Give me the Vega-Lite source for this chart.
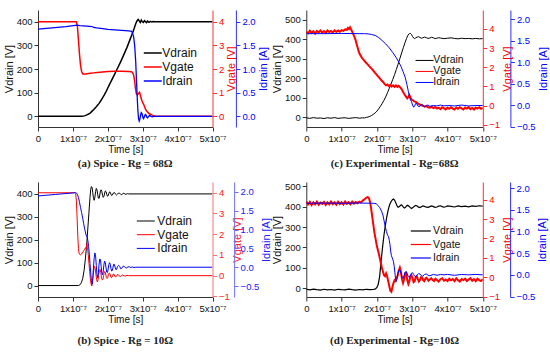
{
  "$schema": "https://vega.github.io/schema/vega-lite/v6.json",
  "background": "white",
  "padding": {"left": 3, "top": 10, "right": 2, "bottom": 6},
  "config": {
    "font": "Liberation Sans",
    "view": {"stroke": null},
    "axis": {"grid": false, "labelFont": "Liberation Sans", "titleFont": "Liberation Sans", "labelFontSize": 9.5, "titleFontSize": 11, "titleFontWeight": "normal", "tickSize": 4, "labelPadding": 2, "titlePadding": 2, "domainColor": "#333333", "tickColor": "#333333", "labelColor": "#111111", "titleColor": "#111111", "labelOverlap": false, "labelFlush": false},
    "axisX": {"labelOverlap": false, "labelBound": false, "labelSeparation": 0},
    "legend": {"symbolType": "M-2,0H2", "symbolSize": 81, "padding": 0, "labelFont": "Liberation Sans", "labelColor": "#111111", "labelLimit": 200}
  },
  "bounds": "flush",
  "columns": 2,
  "spacing": {"row": 55, "column": 93.3},
  "resolve": {"scale": {"color": "independent"}},
  "concat": [
        {
          "width": 174.5, "height": 117,
          "title": {"text": "(a) Spice - Rg = 68Ω", "orient": "bottom", "anchor": "middle", "font": "Liberation Serif", "fontWeight": "bold", "fontSize": 11, "color": "#222222", "offset": 3.5},
          "resolve": {"scale": {"y": "independent"}},
          "encoding": {"x": {"field": "t", "type": "quantitative", "scale": {"domain": [0, 500], "nice": false}, "axis": {"title": "Time [s]", "values": [0, 100, 200, 300, 400, 500], "labelOverlap": false, "labelExpr": "datum.value === 0 ? '0' : (datum.value/100) + 'x10⁻⁷'", "titleFontSize": 10, "titlePadding": 2}}},
          "layer": [
            {"data": {"name": "a_vd"}, "mark": {"type": "line", "strokeWidth": 1.5, "clip": true},
             "encoding": {
               "y": {"field": "v", "type": "quantitative", "scale": {"domain": [-45, 450], "nice": false, "zero": false}, "axis": {"title": "Vdrain [V]", "orient": "left", "values": [0, 100, 200, 300, 400]}},
               "color": {"datum": "Vdrain", "type": "nominal", "scale": {"domain": ["Vdrain", "Vgate", "Idrain"], "range": ["#000000", "#ff0000", "#0000ff"]}, "legend": {"title": null, "orient": "none", "legendX": 108.8, "legendY": 37, "labelFontSize": 12, "labelOffset": 3.5, "rowPadding": 2, "symbolStrokeWidth": 1.5}}
             }},
            {"data": {"name": "a_vg"}, "mark": {"type": "line", "strokeWidth": 1.5, "clip": true},
             "encoding": {
               "y": {"field": "v", "type": "quantitative", "scale": {"domain": [-0.45, 4.5], "nice": false, "zero": false}, "axis": {"title": "Vgate [V]", "orient": "right", "values": [0, 1, 2, 3, 4], "domainColor": "#ff3030", "tickColor": "#ff3030", "labelColor": "#ff0000", "titleColor": "#ff0000", "titleAngle": 270, "titleBaseline": "top"}},
               "color": {"datum": "Vgate", "type": "nominal"}
             }},
            {"data": {"name": "a_id"}, "mark": {"type": "line", "strokeWidth": 1.3, "clip": true},
             "encoding": {
               "y": {"field": "v", "type": "quantitative", "scale": {"domain": [-0.225, 2.25], "nice": false, "zero": false}, "axis": {"title": "Idrain [A]", "orient": "right", "offset": 23.4, "values": [0, 0.5, 1, 1.5, 2], "format": ".1f", "domainColor": "#3030ff", "tickColor": "#3030ff", "labelColor": "#0000ff", "titleColor": "#0000ff", "titleAngle": 270, "titleBaseline": "top"}},
               "color": {"datum": "Idrain", "type": "nominal"}
             }}
          ]
        },
        {
          "width": 176.5, "height": 117,
          "title": {"text": "(c) Experimental - Rg=68Ω", "orient": "bottom", "anchor": "middle", "font": "Liberation Serif", "fontWeight": "bold", "fontSize": 11, "color": "#222222", "offset": 3.5},
          "resolve": {"scale": {"y": "independent"}},
          "encoding": {"x": {"field": "t", "type": "quantitative", "scale": {"domain": [0, 500], "nice": false}, "axis": {"title": "Time [s]", "values": [0, 100, 200, 300, 400, 500], "labelOverlap": false, "labelExpr": "datum.value === 0 ? '0' : (datum.value/100) + 'x10⁻⁷'", "titleFontSize": 10, "titlePadding": 2}}},
          "layer": [
            {"data": {"name": "c_vd"}, "mark": {"type": "line", "strokeWidth": 1, "clip": true},
             "encoding": {
               "y": {"field": "v", "type": "quantitative", "scale": {"domain": [-51.5, 551.5], "nice": false, "zero": false}, "axis": {"title": "Vdrain [V]", "orient": "left", "values": [0, 100, 200, 300, 400, 500]}},
               "color": {"datum": "Vdrain", "type": "nominal", "scale": {"domain": ["Vdrain", "Vgate", "Idrain"], "range": ["#000000", "#ff0000", "#0000ff"]}, "legend": {"title": null, "orient": "none", "legendX": 113, "legendY": 45.2, "labelFontSize": 10.5, "labelOffset": 3.5, "rowPadding": 0, "symbolStrokeWidth": 1}}
             }},
            {"data": {"name": "c_vg"}, "mark": {"type": "line", "strokeWidth": 2, "clip": true},
             "encoding": {
               "y": {"field": "v", "type": "quantitative", "scale": {"domain": [-1.11, 4.98], "nice": false, "zero": false}, "axis": {"title": "Vgate [V]", "orient": "right", "values": [-1, 0, 1, 2, 3, 4], "domainColor": "#ff3030", "tickColor": "#ff3030", "labelColor": "#ff0000", "titleColor": "#ff0000", "titleAngle": 270, "titleBaseline": "top"}},
               "color": {"datum": "Vgate", "type": "nominal"}
             }},
            {"data": {"name": "c_id"}, "mark": {"type": "line", "strokeWidth": 1, "clip": true},
             "encoding": {
               "y": {"field": "v", "type": "quantitative", "scale": {"domain": [-0.51, 2.21], "nice": false, "zero": false}, "axis": {"title": "Idrain [A]", "orient": "right", "offset": 27.6, "values": [-0.5, 0, 0.5, 1, 1.5, 2], "format": ".1f", "domainColor": "#3030ff", "tickColor": "#3030ff", "labelColor": "#0000ff", "titleColor": "#0000ff", "titleAngle": 270, "titleBaseline": "top"}},
               "color": {"datum": "Idrain", "type": "nominal"}
             }}
          ]
        },
        {
          "width": 174.5, "height": 115,
          "title": {"text": "(b) Spice - Rg = 10Ω", "orient": "bottom", "anchor": "middle", "font": "Liberation Serif", "fontWeight": "bold", "fontSize": 11, "color": "#222222", "offset": 10},
          "resolve": {"scale": {"y": "independent"}},
          "encoding": {"x": {"field": "t", "type": "quantitative", "scale": {"domain": [0, 500], "nice": false}, "axis": {"title": "Time [s]", "values": [0, 100, 200, 300, 400, 500], "labelOverlap": false, "labelExpr": "datum.value === 0 ? '0' : (datum.value/100) + 'x10⁻⁷'", "titleFontSize": 10, "titlePadding": 2}}},
          "layer": [
            {"data": {"name": "b_vd"}, "mark": {"type": "line", "strokeWidth": 1, "clip": true},
             "encoding": {
               "y": {"field": "v", "type": "quantitative", "scale": {"domain": [-50, 452], "nice": false, "zero": false}, "axis": {"title": "Vdrain [V]", "orient": "left", "values": [0, 100, 200, 300, 400]}},
               "color": {"datum": "Vdrain", "type": "nominal", "scale": {"domain": ["Vdrain", "Vgate", "Idrain"], "range": ["#000000", "#ff0000", "#0000ff"]}, "legend": {"title": null, "orient": "none", "legendX": 101.8, "legendY": 33, "labelFontSize": 12, "labelOffset": 5.5, "rowPadding": 1.7, "symbolStrokeWidth": 1}}
             }},
            {"data": {"name": "b_vg"}, "mark": {"type": "line", "strokeWidth": 1, "clip": true},
             "encoding": {
               "y": {"field": "v", "type": "quantitative", "scale": {"domain": [-1.03, 4.52], "nice": false, "zero": false}, "axis": {"title": "Vgate [V]", "orient": "right", "values": [-1, 0, 1, 2, 3, 4], "domainColor": "#ff7070", "tickColor": "#ff7070", "labelColor": "#ff2020", "titleColor": "#ff2020", "titleAngle": 270, "titleBaseline": "top"}},
               "color": {"datum": "Vgate", "type": "nominal"}
             }},
            {"data": {"name": "b_id"}, "mark": {"type": "line", "strokeWidth": 1, "clip": true},
             "encoding": {
               "y": {"field": "v", "type": "quantitative", "scale": {"domain": [-0.79, 2.26], "nice": false, "zero": false}, "axis": {"title": "Idrain [A]", "orient": "right", "offset": 21.6, "values": [-0.5, 0, 0.5, 1, 1.5, 2], "format": ".1f", "domainColor": "#7070ff", "tickColor": "#7070ff", "labelColor": "#2020ff", "titleColor": "#2020ff", "titleAngle": 270, "titleBaseline": "top"}},
               "color": {"datum": "Idrain", "type": "nominal"}
             }}
          ]
        },
        {
          "width": 176.5, "height": 115,
          "title": {"text": "(d) Experimental - Rg=10Ω", "orient": "bottom", "anchor": "middle", "font": "Liberation Serif", "fontWeight": "bold", "fontSize": 11, "color": "#222222", "offset": 10},
          "resolve": {"scale": {"y": "independent"}},
          "encoding": {"x": {"field": "t", "type": "quantitative", "scale": {"domain": [0, 500], "nice": false}, "axis": {"title": "Time [s]", "values": [0, 100, 200, 300, 400, 500], "labelOverlap": false, "labelExpr": "datum.value === 0 ? '0' : (datum.value/100) + 'x10⁻⁷'", "titleFontSize": 10, "titlePadding": 2}}},
          "layer": [
            {"data": {"name": "d_vd"}, "mark": {"type": "line", "strokeWidth": 1.2, "clip": true},
             "encoding": {
               "y": {"field": "v", "type": "quantitative", "scale": {"domain": [-44, 522], "nice": false, "zero": false}, "axis": {"title": "Vdrain [V]", "orient": "left", "values": [0, 100, 200, 300, 400, 500]}},
               "color": {"datum": "Vdrain", "type": "nominal", "scale": {"domain": ["Vdrain", "Vgate", "Idrain"], "range": ["#000000", "#ff0000", "#0000ff"]}, "legend": {"title": null, "orient": "none", "legendX": 108.5, "legendY": 43, "labelFontSize": 10.5, "labelOffset": 6.2, "rowPadding": 1.5, "symbolSize": 100, "symbolStrokeWidth": 1.2}}
             }},
            {"data": {"name": "d_vg"}, "mark": {"type": "line", "strokeWidth": 2, "clip": true},
             "encoding": {
               "y": {"field": "v", "type": "quantitative", "scale": {"domain": [-1.02, 4.91], "nice": false, "zero": false}, "axis": {"title": "Vgate [V]", "orient": "right", "values": [-1, 0, 1, 2, 3, 4], "domainColor": "#ff3030", "tickColor": "#ff3030", "labelColor": "#ff0000", "titleColor": "#ff0000", "titleAngle": 270, "titleBaseline": "top"}},
               "color": {"datum": "Vgate", "type": "nominal"}
             }},
            {"data": {"name": "d_id"}, "mark": {"type": "line", "strokeWidth": 1, "clip": true},
             "encoding": {
               "y": {"field": "v", "type": "quantitative", "scale": {"domain": [-0.51, 2.14], "nice": false, "zero": false}, "axis": {"title": "Idrain [A]", "orient": "right", "offset": 27.3, "values": [-0.5, 0, 0.5, 1, 1.5, 2], "format": ".1f", "domainColor": "#3030ff", "tickColor": "#3030ff", "labelColor": "#0000ff", "titleColor": "#0000ff", "titleAngle": 270, "titleBaseline": "top"}},
               "color": {"datum": "Idrain", "type": "nominal"}
             }}
          ]
        }
  ],
  "datasets": {
    "a_vd": [{"t":0,"v":0},{"t":125,"v":0},{"t":130,"v":1},{"t":135,"v":3},{"t":140,"v":6},{"t":145,"v":10},{"t":150,"v":15},{"t":155,"v":22},{"t":160,"v":29},{"t":165,"v":37},{"t":170,"v":46},{"t":175,"v":55},{"t":180,"v":66},{"t":185,"v":78},{"t":190,"v":91},{"t":195,"v":105},{"t":200,"v":120},{"t":205,"v":135},{"t":210,"v":150},{"t":215,"v":165},{"t":220,"v":180},{"t":225,"v":195},{"t":230,"v":210},{"t":235,"v":225},{"t":240,"v":241},{"t":245,"v":258},{"t":250,"v":275},{"t":255,"v":292},{"t":260,"v":311},{"t":265,"v":330},{"t":270,"v":350},{"t":275,"v":370},{"t":280,"v":392},{"t":284,"v":405},{"t":287,"v":410},{"t":290,"v":404},{"t":293,"v":397},{"t":296,"v":407},{"t":299,"v":400},{"t":302,"v":397},{"t":305,"v":405},{"t":308,"v":401},{"t":311,"v":397},{"t":314,"v":403},{"t":318,"v":398},{"t":322,"v":402},{"t":326,"v":399},{"t":330,"v":401},{"t":335,"v":400},{"t":500,"v":400}],
    "a_vg": [{"t":0,"v":4.0},{"t":110,"v":4.0},{"t":113,"v":3.8},{"t":116,"v":3.2},{"t":119,"v":2.6},{"t":122,"v":2.15},{"t":125,"v":1.9},{"t":128,"v":1.8},{"t":132,"v":1.78},{"t":140,"v":1.8},{"t":150,"v":1.82},{"t":160,"v":1.84},{"t":170,"v":1.86},{"t":185,"v":1.88},{"t":200,"v":1.9},{"t":220,"v":1.91},{"t":240,"v":1.91},{"t":260,"v":1.9},{"t":268,"v":1.89},{"t":271,"v":1.85},{"t":274,"v":1.75},{"t":277,"v":1.5},{"t":279,"v":1.2},{"t":282,"v":0.95},{"t":285,"v":0.9},{"t":288,"v":0.97},{"t":291,"v":1.02},{"t":294,"v":0.85},{"t":298,"v":0.65},{"t":303,"v":0.5},{"t":308,"v":0.3},{"t":312,"v":0.21},{"t":318,"v":0.12},{"t":327,"v":0.05},{"t":335,"v":0.01},{"t":345,"v":0},{"t":500,"v":0}],
    "a_id": [{"t":0,"v":1.845},{"t":40,"v":1.87},{"t":80,"v":1.9},{"t":112,"v":1.93},{"t":120,"v":1.92},{"t":140,"v":1.91},{"t":155,"v":1.9},{"t":160,"v":1.88},{"t":168,"v":1.87},{"t":180,"v":1.86},{"t":200,"v":1.84},{"t":220,"v":1.83},{"t":240,"v":1.82},{"t":260,"v":1.81},{"t":268,"v":1.8},{"t":271,"v":1.76},{"t":274,"v":1.68},{"t":277,"v":1.5},{"t":280,"v":1.15},{"t":282,"v":0.8},{"t":284,"v":0.45},{"t":286,"v":0.15},{"t":288,"v":-0.05},{"t":290,"v":-0.1},{"t":292,"v":-0.06},{"t":294,"v":0.03},{"t":296,"v":0.08},{"t":298,"v":0.06},{"t":300,"v":-0.01},{"t":302,"v":-0.05},{"t":304,"v":-0.03},{"t":306,"v":0.02},{"t":308,"v":0.04},{"t":310,"v":0.02},{"t":312,"v":-0.02},{"t":314,"v":-0.03},{"t":317,"v":0.0},{"t":320,"v":0.02},{"t":324,"v":0.0},{"t":328,"v":-0.01},{"t":334,"v":0.005},{"t":340,"v":0},{"t":500,"v":0}],
    "b_vd": [{"t":0,"v":0},{"t":116,"v":0},{"t":120,"v":3},{"t":124,"v":12},{"t":128,"v":30},{"t":132,"v":65},{"t":136,"v":120},{"t":140,"v":190},{"t":143,"v":255},{"t":146,"v":320},{"t":149,"v":385},{"t":151,"v":420},{"t":153,"v":432},{"t":155,"v":428},{"t":157,"v":405},{"t":159,"v":380},{"t":161,"v":372},{"t":163,"v":385},{"t":165,"v":410},{"t":167,"v":424},{"t":169,"v":418},{"t":171,"v":398},{"t":173,"v":382},{"t":175,"v":380},{"t":177,"v":395},{"t":179,"v":413},{"t":181,"v":418},{"t":183,"v":410},{"t":185,"v":393},{"t":187,"v":385},{"t":189,"v":390},{"t":191,"v":404},{"t":193,"v":413},{"t":195,"v":410},{"t":197,"v":398},{"t":199,"v":390},{"t":201,"v":392},{"t":203,"v":402},{"t":205,"v":409},{"t":207,"v":407},{"t":209,"v":399},{"t":211,"v":393},{"t":213,"v":395},{"t":216,"v":404},{"t":219,"v":406},{"t":222,"v":399},{"t":225,"v":395},{"t":228,"v":399},{"t":231,"v":404},{"t":234,"v":403},{"t":237,"v":398},{"t":240,"v":397},{"t":243,"v":401},{"t":246,"v":403},{"t":249,"v":400},{"t":252,"v":398},{"t":256,"v":401},{"t":260,"v":400},{"t":500,"v":400}],
    "b_vg": [{"t":0,"v":4.0},{"t":105,"v":4.0},{"t":108,"v":3.95},{"t":110,"v":3.6},{"t":112,"v":2.8},{"t":114,"v":1.9},{"t":116,"v":1.3},{"t":118,"v":1.05},{"t":121,"v":1.0},{"t":125,"v":1.05},{"t":129,"v":1.15},{"t":133,"v":1.25},{"t":136,"v":1.35},{"t":138,"v":1.3},{"t":140,"v":1.55},{"t":142,"v":1.35},{"t":144,"v":1.0},{"t":146,"v":0.6},{"t":148,"v":0.2},{"t":150,"v":-0.15},{"t":152,"v":-0.4},{"t":154,"v":-0.5},{"t":156,"v":-0.35},{"t":158,"v":0.0},{"t":160,"v":0.3},{"t":162,"v":0.45},{"t":164,"v":0.35},{"t":166,"v":0.05},{"t":168,"v":-0.2},{"t":170,"v":-0.3},{"t":172,"v":-0.2},{"t":174,"v":0.05},{"t":176,"v":0.25},{"t":178,"v":0.3},{"t":180,"v":0.15},{"t":182,"v":-0.1},{"t":184,"v":-0.2},{"t":186,"v":-0.18},{"t":188,"v":0.0},{"t":190,"v":0.18},{"t":192,"v":0.2},{"t":194,"v":0.08},{"t":196,"v":-0.1},{"t":198,"v":-0.14},{"t":200,"v":-0.08},{"t":202,"v":0.06},{"t":204,"v":0.13},{"t":206,"v":0.1},{"t":208,"v":-0.02},{"t":210,"v":-0.1},{"t":212,"v":-0.08},{"t":214,"v":0.02},{"t":216,"v":0.08},{"t":218,"v":0.07},{"t":220,"v":-0.02},{"t":222,"v":-0.06},{"t":224,"v":-0.05},{"t":227,"v":0.04},{"t":230,"v":0.05},{"t":233,"v":-0.02},{"t":236,"v":-0.04},{"t":239,"v":0.0},{"t":242,"v":0.03},{"t":246,"v":0.0},{"t":250,"v":-0.02},{"t":255,"v":0.01},{"t":260,"v":0},{"t":500,"v":0}],
    "b_id": [{"t":0,"v":1.89},{"t":50,"v":1.93},{"t":100,"v":1.97},{"t":107,"v":1.98},{"t":110,"v":1.97},{"t":113,"v":1.93},{"t":116,"v":1.85},{"t":119,"v":1.72},{"t":122,"v":1.58},{"t":125,"v":1.45},{"t":128,"v":1.3},{"t":131,"v":1.15},{"t":134,"v":1.0},{"t":137,"v":0.88},{"t":139,"v":0.82},{"t":141,"v":0.8},{"t":143,"v":0.7},{"t":145,"v":0.55},{"t":147,"v":0.35},{"t":149,"v":0.1},{"t":151,"v":-0.15},{"t":153,"v":-0.35},{"t":155,"v":-0.45},{"t":157,"v":-0.3},{"t":159,"v":0.0},{"t":161,"v":0.25},{"t":163,"v":0.38},{"t":165,"v":0.3},{"t":167,"v":0.05},{"t":169,"v":-0.2},{"t":171,"v":-0.28},{"t":173,"v":-0.15},{"t":175,"v":0.08},{"t":177,"v":0.22},{"t":179,"v":0.2},{"t":181,"v":0.02},{"t":183,"v":-0.17},{"t":185,"v":-0.2},{"t":187,"v":-0.1},{"t":189,"v":0.08},{"t":191,"v":0.16},{"t":193,"v":0.12},{"t":195,"v":-0.02},{"t":197,"v":-0.13},{"t":199,"v":-0.14},{"t":201,"v":-0.05},{"t":203,"v":0.07},{"t":205,"v":0.12},{"t":207,"v":0.08},{"t":209,"v":-0.03},{"t":211,"v":-0.1},{"t":213,"v":-0.09},{"t":215,"v":0.0},{"t":217,"v":0.08},{"t":219,"v":0.07},{"t":221,"v":0.0},{"t":223,"v":-0.06},{"t":225,"v":-0.06},{"t":228,"v":0.02},{"t":231,"v":0.05},{"t":234,"v":0.02},{"t":237,"v":-0.04},{"t":240,"v":-0.03},{"t":243,"v":0.02},{"t":246,"v":0.03},{"t":250,"v":-0.01},{"t":254,"v":-0.02},{"t":258,"v":0.01},{"t":262,"v":0.01},{"t":266,"v":-0.01},{"t":270,"v":0.01},{"t":275,"v":-0.01},{"t":280,"v":0},{"t":500,"v":0}],
    "c_vd": [{"t":0,"v":-4},{"t":10,"v":-7},{"t":20,"v":-3},{"t":30,"v":-6},{"t":40,"v":-5},{"t":50,"v":-8},{"t":60,"v":-4},{"t":70,"v":-6},{"t":80,"v":-3},{"t":90,"v":-7},{"t":100,"v":-5},{"t":110,"v":-4},{"t":120,"v":-7},{"t":130,"v":-5},{"t":140,"v":-3},{"t":150,"v":-6},{"t":160,"v":-4},{"t":165,"v":-5},{"t":170,"v":-2},{"t":175,"v":0},{"t":180,"v":3},{"t":185,"v":8},{"t":190,"v":14},{"t":195,"v":21},{"t":200,"v":30},{"t":205,"v":42},{"t":210,"v":55},{"t":215,"v":70},{"t":220,"v":86},{"t":225,"v":104},{"t":230,"v":125},{"t":235,"v":147},{"t":240,"v":170},{"t":245,"v":194},{"t":250,"v":218},{"t":255,"v":245},{"t":260,"v":272},{"t":265,"v":301},{"t":270,"v":330},{"t":275,"v":358},{"t":280,"v":385},{"t":284,"v":405},{"t":288,"v":422},{"t":292,"v":430},{"t":295,"v":431},{"t":298,"v":425},{"t":301,"v":415},{"t":304,"v":407},{"t":307,"v":404},{"t":310,"v":408},{"t":314,"v":412},{"t":318,"v":414},{"t":322,"v":410},{"t":326,"v":406},{"t":330,"v":408},{"t":335,"v":412},{"t":340,"v":409},{"t":345,"v":405},{"t":350,"v":407},{"t":355,"v":411},{"t":360,"v":408},{"t":365,"v":404},{"t":370,"v":406},{"t":375,"v":409},{"t":380,"v":407},{"t":390,"v":404},{"t":400,"v":406},{"t":410,"v":408},{"t":420,"v":405},{"t":430,"v":403},{"t":440,"v":406},{"t":450,"v":404},{"t":460,"v":405},{"t":470,"v":403},{"t":480,"v":405},{"t":490,"v":403},{"t":500,"v":404}],
    "c_vg": [{"t":0,"v":3.85},{"t":5,"v":3.77},{"t":10,"v":3.9},{"t":15,"v":3.79},{"t":20,"v":3.87},{"t":25,"v":3.75},{"t":30,"v":3.89},{"t":35,"v":3.81},{"t":40,"v":3.91},{"t":45,"v":3.8},{"t":50,"v":3.88},{"t":55,"v":3.79},{"t":60,"v":3.91},{"t":65,"v":3.83},{"t":70,"v":3.89},{"t":75,"v":3.81},{"t":80,"v":3.92},{"t":85,"v":3.84},{"t":90,"v":3.91},{"t":95,"v":3.85},{"t":100,"v":3.93},{"t":105,"v":3.89},{"t":110,"v":3.97},{"t":115,"v":3.95},{"t":118,"v":4.05},{"t":121,"v":3.99},{"t":124,"v":4.08},{"t":127,"v":3.97},{"t":130,"v":3.85},{"t":133,"v":3.72},{"t":136,"v":3.6},{"t":139,"v":3.45},{"t":142,"v":3.25},{"t":145,"v":3.05},{"t":148,"v":2.85},{"t":151,"v":2.7},{"t":155,"v":2.58},{"t":158,"v":2.47},{"t":162,"v":2.4},{"t":166,"v":2.3},{"t":170,"v":2.22},{"t":174,"v":2.15},{"t":178,"v":2.06},{"t":182,"v":1.98},{"t":186,"v":1.9},{"t":190,"v":1.82},{"t":194,"v":1.72},{"t":198,"v":1.64},{"t":202,"v":1.55},{"t":206,"v":1.47},{"t":210,"v":1.38},{"t":214,"v":1.3},{"t":218,"v":1.22},{"t":222,"v":1.12},{"t":226,"v":1.06},{"t":230,"v":1.1},{"t":234,"v":1.02},{"t":238,"v":1.08},{"t":242,"v":0.99},{"t":246,"v":1.06},{"t":250,"v":0.98},{"t":254,"v":1.05},{"t":258,"v":0.98},{"t":262,"v":1.03},{"t":266,"v":0.95},{"t":270,"v":0.86},{"t":274,"v":0.72},{"t":278,"v":0.6},{"t":282,"v":0.48},{"t":286,"v":0.38},{"t":289,"v":0.45},{"t":292,"v":0.55},{"t":295,"v":0.42},{"t":298,"v":0.32},{"t":302,"v":0.28},{"t":306,"v":0.22},{"t":310,"v":0.2},{"t":315,"v":0.12},{"t":320,"v":0.08},{"t":325,"v":0.02},{"t":330,"v":0.0},{"t":335,"v":-0.05},{"t":340,"v":-0.02},{"t":345,"v":-0.08},{"t":350,"v":-0.1},{"t":355,"v":-0.05},{"t":360,"v":-0.12},{"t":365,"v":-0.08},{"t":370,"v":-0.15},{"t":375,"v":-0.1},{"t":380,"v":-0.18},{"t":385,"v":-0.08},{"t":390,"v":-0.14},{"t":395,"v":-0.2},{"t":400,"v":-0.1},{"t":405,"v":-0.16},{"t":410,"v":-0.08},{"t":415,"v":-0.15},{"t":420,"v":-0.2},{"t":425,"v":-0.1},{"t":430,"v":-0.16},{"t":435,"v":-0.08},{"t":440,"v":-0.14},{"t":445,"v":-0.2},{"t":450,"v":-0.1},{"t":455,"v":-0.15},{"t":460,"v":-0.08},{"t":465,"v":-0.18},{"t":470,"v":-0.12},{"t":475,"v":-0.2},{"t":480,"v":-0.1},{"t":485,"v":-0.15},{"t":490,"v":-0.08},{"t":495,"v":-0.16},{"t":500,"v":-0.12}],
    "c_id": [{"t":0,"v":1.66},{"t":50,"v":1.66},{"t":100,"v":1.665},{"t":150,"v":1.66},{"t":165,"v":1.66},{"t":175,"v":1.655},{"t":185,"v":1.64},{"t":195,"v":1.62},{"t":205,"v":1.57},{"t":215,"v":1.5},{"t":225,"v":1.42},{"t":235,"v":1.33},{"t":245,"v":1.22},{"t":255,"v":1.1},{"t":262,"v":1.0},{"t":268,"v":0.9},{"t":274,"v":0.78},{"t":280,"v":0.65},{"t":285,"v":0.48},{"t":289,"v":0.32},{"t":292,"v":0.2},{"t":295,"v":0.12},{"t":298,"v":0.08},{"t":301,"v":0.0},{"t":304,"v":-0.05},{"t":307,"v":-0.02},{"t":310,"v":0.04},{"t":313,"v":0.03},{"t":316,"v":-0.02},{"t":320,"v":-0.04},{"t":324,"v":0.0},{"t":328,"v":0.02},{"t":332,"v":-0.02},{"t":336,"v":-0.04},{"t":340,"v":-0.01},{"t":345,"v":0.0},{"t":350,"v":-0.03},{"t":360,"v":-0.01},{"t":370,"v":-0.02},{"t":380,"v":0.0},{"t":390,"v":-0.02},{"t":400,"v":-0.01},{"t":420,"v":-0.02},{"t":440,"v":0.0},{"t":460,"v":-0.02},{"t":480,"v":-0.01},{"t":500,"v":-0.01}],
    "d_vd": [{"t":0,"v":-6},{"t":10,"v":-9},{"t":20,"v":-5},{"t":30,"v":-8},{"t":40,"v":-10},{"t":50,"v":-6},{"t":60,"v":-9},{"t":70,"v":-7},{"t":80,"v":-10},{"t":90,"v":-6},{"t":100,"v":-8},{"t":110,"v":-9},{"t":120,"v":-5},{"t":130,"v":-8},{"t":140,"v":-10},{"t":150,"v":-7},{"t":160,"v":-9},{"t":170,"v":-6},{"t":180,"v":-8},{"t":190,"v":-7},{"t":196,"v":-4},{"t":200,"v":3},{"t":204,"v":20},{"t":208,"v":60},{"t":212,"v":135},{"t":216,"v":200},{"t":220,"v":260},{"t":224,"v":310},{"t":228,"v":350},{"t":232,"v":385},{"t":236,"v":410},{"t":240,"v":425},{"t":244,"v":435},{"t":247,"v":438},{"t":250,"v":433},{"t":254,"v":418},{"t":257,"v":405},{"t":260,"v":398},{"t":263,"v":400},{"t":266,"v":405},{"t":269,"v":410},{"t":272,"v":406},{"t":275,"v":398},{"t":278,"v":394},{"t":281,"v":397},{"t":284,"v":404},{"t":287,"v":408},{"t":290,"v":404},{"t":294,"v":397},{"t":298,"v":392},{"t":302,"v":396},{"t":306,"v":403},{"t":310,"v":407},{"t":314,"v":404},{"t":318,"v":398},{"t":322,"v":396},{"t":326,"v":400},{"t":330,"v":404},{"t":335,"v":402},{"t":340,"v":398},{"t":345,"v":397},{"t":350,"v":401},{"t":355,"v":404},{"t":360,"v":401},{"t":365,"v":397},{"t":370,"v":399},{"t":375,"v":403},{"t":380,"v":405},{"t":385,"v":401},{"t":390,"v":398},{"t":395,"v":400},{"t":400,"v":404},{"t":410,"v":402},{"t":420,"v":399},{"t":430,"v":404},{"t":440,"v":401},{"t":450,"v":403},{"t":460,"v":400},{"t":470,"v":404},{"t":480,"v":402},{"t":490,"v":405},{"t":500,"v":403}],
    "d_vg": [{"t":0,"v":3.9},{"t":5,"v":3.75},{"t":10,"v":3.88},{"t":15,"v":3.72},{"t":20,"v":3.86},{"t":25,"v":3.76},{"t":30,"v":3.9},{"t":35,"v":3.74},{"t":40,"v":3.85},{"t":45,"v":3.78},{"t":50,"v":3.88},{"t":55,"v":3.73},{"t":60,"v":3.86},{"t":65,"v":3.76},{"t":70,"v":3.9},{"t":75,"v":3.77},{"t":80,"v":3.86},{"t":85,"v":3.74},{"t":90,"v":3.89},{"t":95,"v":3.78},{"t":100,"v":3.87},{"t":105,"v":3.75},{"t":110,"v":3.9},{"t":115,"v":3.79},{"t":120,"v":3.87},{"t":125,"v":3.76},{"t":130,"v":3.9},{"t":135,"v":3.8},{"t":140,"v":3.88},{"t":145,"v":3.82},{"t":150,"v":3.9},{"t":155,"v":3.86},{"t":160,"v":3.95},{"t":165,"v":4.02},{"t":170,"v":4.1},{"t":174,"v":4.14},{"t":178,"v":4.05},{"t":181,"v":3.85},{"t":184,"v":3.5},{"t":187,"v":3.1},{"t":190,"v":2.7},{"t":193,"v":2.3},{"t":196,"v":2.0},{"t":199,"v":1.7},{"t":202,"v":1.45},{"t":205,"v":1.25},{"t":208,"v":1.0},{"t":211,"v":0.75},{"t":214,"v":0.5},{"t":217,"v":0.3},{"t":220,"v":0.1},{"t":223,"v":0.05},{"t":226,"v":0.2},{"t":229,"v":0.05},{"t":232,"v":-0.2},{"t":235,"v":-0.45},{"t":238,"v":-0.7},{"t":241,"v":-0.75},{"t":244,"v":-0.5},{"t":247,"v":-0.3},{"t":250,"v":-0.15},{"t":253,"v":-0.2},{"t":256,"v":-0.05},{"t":259,"v":0.1},{"t":262,"v":0.35},{"t":265,"v":0.5},{"t":268,"v":0.3},{"t":271,"v":-0.1},{"t":274,"v":-0.3},{"t":277,"v":-0.1},{"t":280,"v":0.2},{"t":283,"v":0.22},{"t":286,"v":-0.15},{"t":289,"v":-0.35},{"t":292,"v":-0.2},{"t":295,"v":0.05},{"t":298,"v":0.1},{"t":301,"v":-0.05},{"t":304,"v":-0.25},{"t":307,"v":-0.2},{"t":310,"v":0.0},{"t":313,"v":0.05},{"t":316,"v":-0.1},{"t":319,"v":-0.22},{"t":322,"v":-0.15},{"t":325,"v":0.0},{"t":328,"v":-0.02},{"t":331,"v":-0.15},{"t":334,"v":-0.2},{"t":337,"v":-0.1},{"t":340,"v":-0.03},{"t":343,"v":-0.08},{"t":346,"v":-0.18},{"t":350,"v":-0.12},{"t":354,"v":-0.05},{"t":358,"v":-0.15},{"t":362,"v":-0.2},{"t":366,"v":-0.08},{"t":370,"v":-0.14},{"t":375,"v":-0.22},{"t":380,"v":-0.1},{"t":385,"v":-0.05},{"t":390,"v":-0.18},{"t":395,"v":-0.12},{"t":400,"v":-0.2},{"t":405,"v":-0.08},{"t":410,"v":-0.16},{"t":415,"v":-0.1},{"t":420,"v":-0.2},{"t":425,"v":-0.06},{"t":430,"v":-0.15},{"t":435,"v":-0.22},{"t":440,"v":-0.1},{"t":445,"v":-0.15},{"t":450,"v":-0.08},{"t":455,"v":-0.2},{"t":460,"v":-0.12},{"t":465,"v":-0.05},{"t":470,"v":-0.18},{"t":475,"v":-0.1},{"t":480,"v":-0.2},{"t":485,"v":-0.08},{"t":490,"v":-0.15},{"t":495,"v":-0.2},{"t":500,"v":-0.1}],
    "d_id": [{"t":0,"v":1.65},{"t":50,"v":1.655},{"t":100,"v":1.65},{"t":150,"v":1.655},{"t":190,"v":1.65},{"t":198,"v":1.64},{"t":203,"v":1.6},{"t":208,"v":1.55},{"t":213,"v":1.47},{"t":217,"v":1.38},{"t":221,"v":1.22},{"t":224,"v":1.1},{"t":227,"v":1.0},{"t":230,"v":0.92},{"t":233,"v":0.88},{"t":235,"v":0.8},{"t":237,"v":0.7},{"t":239,"v":0.55},{"t":241,"v":0.45},{"t":243,"v":0.4},{"t":245,"v":0.36},{"t":247,"v":0.3},{"t":249,"v":0.2},{"t":251,"v":0.05},{"t":253,"v":-0.1},{"t":255,"v":-0.15},{"t":257,"v":-0.08},{"t":259,"v":0.02},{"t":262,"v":0.1},{"t":265,"v":0.12},{"t":268,"v":0.05},{"t":271,"v":-0.05},{"t":274,"v":-0.08},{"t":277,"v":-0.02},{"t":280,"v":0.06},{"t":283,"v":0.08},{"t":286,"v":0.02},{"t":289,"v":-0.04},{"t":292,"v":-0.06},{"t":295,"v":-0.01},{"t":298,"v":0.04},{"t":301,"v":0.05},{"t":304,"v":0.01},{"t":307,"v":-0.03},{"t":310,"v":-0.04},{"t":314,"v":0.0},{"t":318,"v":0.03},{"t":322,"v":0.02},{"t":326,"v":-0.02},{"t":330,"v":-0.03},{"t":335,"v":0.01},{"t":340,"v":0.02},{"t":345,"v":-0.01},{"t":350,"v":-0.02},{"t":360,"v":0.01},{"t":370,"v":-0.01},{"t":380,"v":0.01},{"t":390,"v":0.0},{"t":400,"v":0.01},{"t":420,"v":-0.01},{"t":440,"v":0.01},{"t":460,"v":0.0},{"t":480,"v":0.01},{"t":500,"v":0.0}]
  }
}
